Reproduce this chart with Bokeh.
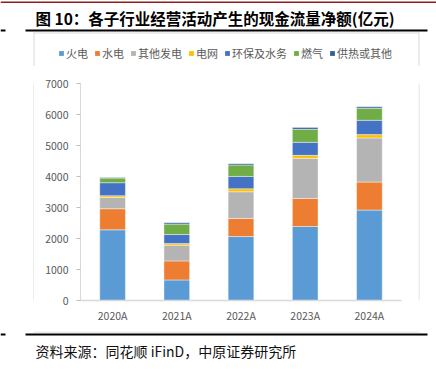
from bokeh.plotting import figure
from bokeh.models import ColumnDataSource, Legend, LegendItem, Range1d, SingleIntervalTicker
from bokeh.layouts import column, row
from bokeh.core.properties import value
from bokeh.embed import file_html
from bokeh.resources import INLINE

categories = ["2020A", "2021A", "2022A", "2023A", "2024A"]
series_names = ["火电", "水电", "其他发电", "电网", "环保及水务", "燃气", "供热或其他"]
thermal = [2280, 663, 2063, 2387, 2916]
hydro = [680, 614, 582, 904, 905]
other_gen = [365, 508, 863, 1294, 1423]
grid = [55, 52, 97, 97, 107]
env_water = [420, 291, 398, 420, 462]
gas = [150, 335, 368, 420, 388]
heat_other = [15, 42, 42, 55, 45]
colors = ["#5B9BD5", "#ED7D31", "#B4B4B4", "#FFC000", "#4472C4", "#70AD47", "#2F6098"]

title_text = "图 10：各子行业经营活动产生的现金流量净额(亿元)"
source_text = "资料来源：同花顺 iFinD，中原证券研究所"

FONT = "Noto Sans CJK SC"
W, H = 436, 369
BOX = "#D9D9D9"
NAN = float("nan")


def decor(x0, x1, y0, y1):
    """A plain drawing surface whose data units are page pixels (y downwards)."""
    f = figure(width=x1 - x0, height=y1 - y0, x_range=Range1d(x0, x1), y_range=Range1d(y1, y0),
               output_backend="svg", toolbar_location=None,
               x_axis_location=None, y_axis_location=None,
               min_border=0, min_border_left=0, min_border_right=0,
               min_border_top=0, min_border_bottom=0)
    f.outline_line_color = None
    f.grid.visible = False
    f.background_fill_color = "white"
    f.border_fill_color = "white"
    return f


# ---- header with legend (page y 0..66)
HY1 = 66
head = decor(0, W, 0, HY1)
head.quad(left=[0], right=[W], top=[1], bottom=[2.6], color="#8F1D1D", line_color=None)
head.quad(left=[25, 0], right=[427, 5], top=[29, 29], bottom=[31, 31], color="black", line_color=None)
head.quad(left=[33], right=[419], top=[32], bottom=[33], color=BOX, line_color=None)
head.quad(left=[33, 418], right=[34, 419], top=[32, 32], bottom=[HY1, HY1], color=BOX, line_color=None)
head.text(x=[35], y=[17], text=[title_text], text_font=value(FONT), text_font_style="bold",
          text_font_size="15.5px", text_color="#000000", text_baseline="middle")
# legend swatches (one undrawn NaN entry each, so the legend has something to sample)
swatches = [head.quad(left=[NAN], right=[NAN], top=[NAN], bottom=[NAN], color=c, line_color=None)
            for c in colors]
legend = Legend(items=[LegendItem(label=n, renderers=[r]) for n, r in zip(series_names, swatches)],
                orientation="horizontal", location=(58, 5),
                glyph_width=6, glyph_height=6, label_standoff=2, spacing=6,
                padding=0, margin=0, border_line_color=None, background_fill_alpha=0,
                label_text_font=FONT, label_text_font_size="11px", label_text_color="#595959",
                label_height=14)
head.add_layout(legend, "center")

# ---- chart row (page y 66..331)
CY0, CY1 = HY1, 331
left = decor(0, 34, CY0, CY1)
left.quad(left=[33], right=[34], top=[CY0], bottom=[CY1], color=BOX, line_color=None)
right = decor(418, W, CY0, CY1)
right.quad(left=[418], right=[419], top=[CY0], bottom=[CY1], color=BOX, line_color=None)

data = {"cat": categories}
for name, vals in zip(series_names, [thermal, hydro, other_gen, grid, env_water, gas, heat_other]):
    data[name] = vals
src = ColumnDataSource(data)

CX0, CX1 = 34, 418
FL, FR, FT, FB = 80, 401, 83, 300
p = figure(x_range=categories, y_range=(0, 7000), width=CX1 - CX0, height=CY1 - CY0,
           output_backend="svg", toolbar_location=None,
           min_border_left=FL - CX0, min_border_right=CX1 - FR,
           min_border_top=FT - CY0, min_border_bottom=CY1 - FB)
p.outline_line_color = None
p.xgrid.grid_line_color = None
p.ygrid.grid_line_color = None
p.background_fill_color = "white"
p.border_fill_color = "white"

p.vbar_stack(series_names, x="cat", width=0.4, source=src, color=colors,
             line_color="white", line_width=0.6, line_alpha=0.7)

ya = p.yaxis[0]
ya.ticker = SingleIntervalTicker(interval=1000)
ya.axis_line_color = BOX
ya.major_tick_line_color = "#BFBFBF"
ya.major_tick_out = 4
ya.major_tick_in = 0
ya.minor_tick_line_color = None
ya.major_label_text_font = FONT
ya.major_label_text_font_size = "10.5px"
ya.major_label_text_color = "#595959"
ya.major_label_standoff = 8

xa = p.xaxis[0]
xa.axis_line_color = BOX
xa.axis_line_width = 1.5
xa.major_tick_line_color = None
xa.minor_tick_line_color = None
xa.major_label_text_font = FONT
xa.major_label_text_font_size = "10.5px"
xa.major_label_text_color = "#595959"
xa.major_label_standoff = 1

# ---- footer (page y 331..369)
foot = decor(0, W, 331, H)
foot.quad(left=[33], right=[419], top=[331], bottom=[332], color=BOX, line_color=None)
foot.quad(left=[25, 0], right=[427, 5], top=[333, 333], bottom=[335, 335], color="black", line_color=None)
foot.text(x=[35], y=[350], text=[source_text], text_font=value(FONT),
          text_font_size="14px", text_color="#111111", text_baseline="middle")

page = column(head, row(left, p, right, spacing=0), foot, spacing=0)

html = file_html(page, INLINE)
html = html.replace("<head>", "<head><style>html,body{margin:0;padding:0;overflow:hidden;}</style>", 1)
open("out.html", "w").write(html)
